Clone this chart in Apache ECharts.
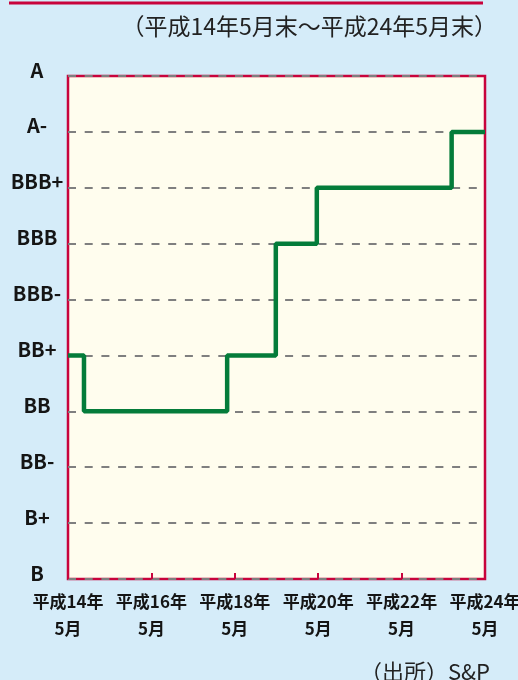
<!DOCTYPE html>
<html><head><meta charset="utf-8">
<script src="https://cdn.jsdelivr.net/npm/echarts@6/dist/echarts.min.js"></script>
<style>html,body{margin:0;padding:0;background:#d5ecf9;}#c{width:518px;height:680px;}</style>
</head><body><div id="c"></div>
<script>
// Rating scale (bottom to top)
const ratings = ['B','B+','BB-','BB','BB+','BBB-','BBB','BBB+','A-','A'];
// X tick labels (every 24 months from 平成14年5月)
const xLabels = ['平成14年\n5月','平成16年\n5月','平成18年\n5月','平成20年\n5月','平成22年\n5月','平成24年\n5月'];
// Rating changes: months since 平成14年5月末, and the rating from then on
const changeMonths = [0, 4.6, 45.8, 59.8, 71.6, 110.4, 120];
const changeRatings = ['BB+','BB','BB+','BBB','BBB+','A-','A-'];
const subtitle = '（平成14年5月末～平成24年5月末）';
const source = '（出所）S&P';

const FONT = '"Noto Sans CJK JP","Noto Sans",sans-serif';
const RED = '#c8033c';
const chart = echarts.init(document.getElementById('c'), null, {renderer:'canvas'});
chart.setOption({
  backgroundColor: '#d5ecf9',
  animation: false,
  grid: {left:68, right:33, top:76, bottom:101, outerBoundsMode:'none', containLabel:false, show:true, backgroundColor:'#fffdee', borderColor:RED, borderWidth:2.5},
  xAxis: {
    type:'value', min:0, max:120, interval:24,
    axisLine:{show:false},
    axisTick:{show:true, inside:true, length:6, lineStyle:{color:RED, width:2}},
    splitLine:{show:false},
    axisLabel:{
      margin:9, fontFamily:FONT, fontWeight:'bold', fontSize:17, lineHeight:27, color:'#151515',
      hideOverlap:false,
      formatter: v => xLabels[Math.round(v/24)] || ''
    }
  },
  yAxis: {
    type:'category', data:ratings, boundaryGap:false,
    axisLine:{show:false}, axisTick:{show:false},
    axisLabel:{margin:31, align:'center', verticalAlign:'bottom', lineHeight:12, fontFamily:FONT, fontWeight:'bold', fontSize:20, color:'#151515'},
    splitLine:{show:true, lineStyle:{color:'#7f7f7f', width:2, type:[8,8.7]}}
  },
  series: [{
    type:'line', step:'start', symbol:'none',
    data: changeMonths.map((m,i)=>[m, changeRatings[i]]),
    lineStyle:{color:'#047c3a', width:4.5}
  }],
  graphic: [
    {type:'line', shape:{x1:9, y1:3, x2:483, y2:3}, style:{stroke:RED, lineWidth:3}},
    {type:'text', x:497, y:26, style:{text:subtitle, align:'right', verticalAlign:'middle', font:'23px '+FONT, fill:'#222'}},
    {type:'text', x:490, y:672, style:{text:source, align:'right', verticalAlign:'middle', font:'22px '+FONT, fill:'#222'}}
  ]
});
</script></body></html>
